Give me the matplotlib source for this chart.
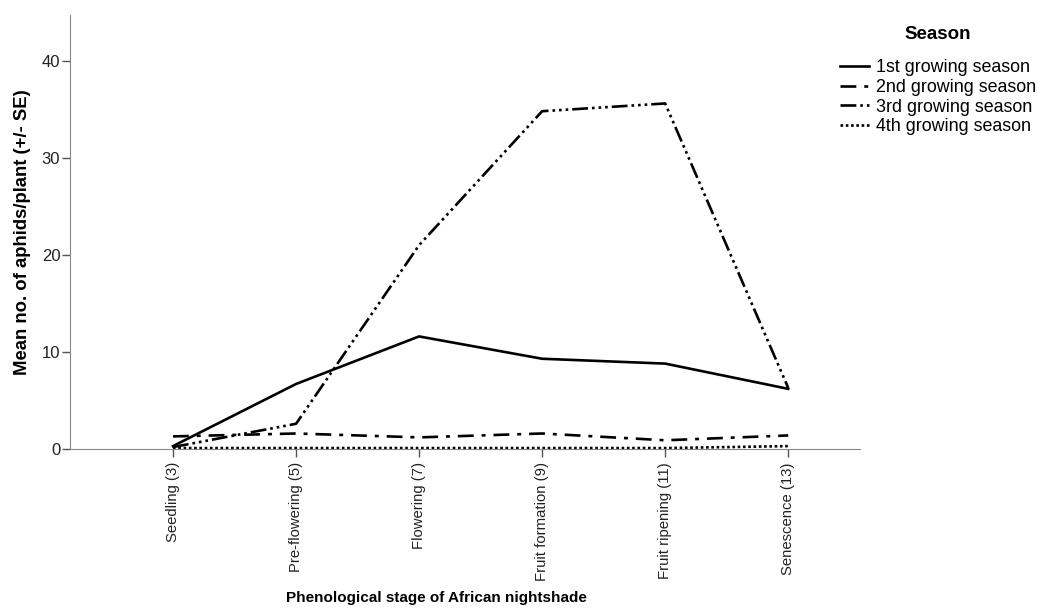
import matplotlib.pyplot as plt
from matplotlib.lines import Line2D

plt.rcParams['font.family'] = ['Liberation Sans', 'DejaVu Sans']

# Phenological stages (BBCH leaf count in brackets)
stages = ["Seedling (3)", "Pre-flowering (5)", "Flowering (7)",
          "Fruit formation (9)", "Fruit ripening (11)", "Senescence (13)"]

# Mean aphids per plant for each growing season
season1 = [0.3, 6.7, 11.6, 9.3, 8.8, 6.2]
season2 = [1.3, 1.6, 1.2, 1.6, 0.9, 1.4]
season3 = [0.2, 2.6, 21.0, 34.8, 35.6, 6.3]
season4 = [0.1, 0.1, 0.1, 0.1, 0.1, 0.3]

labels = ["1st growing season", "2nd growing season",
          "3rd growing season", "4th growing season"]
styles = ["-", (0, (6, 3, 1.5, 3)), (0, (6, 1.5, 1, 1.5, 1, 1.5, 1, 1.5)),
          (0, (1, 1))]

fig = plt.figure(figsize=(10.37, 6.12), dpi=100)
ax = fig.add_axes([0.0675, 0.2663, 0.762, 0.709])

x = list(range(len(stages)))
for ys, ls in zip([season1, season2, season3, season4], styles):
    ax.plot(x, ys, color="black", lw=1.9, linestyle=ls)

ax.set_xlim(-0.837, 5.585)
ax.set_ylim(0, 44.7)
ax.set_xticks(x)
ax.set_xticklabels(stages, rotation=90, fontsize=10.7, color="#222222")
ax.set_yticks([0, 10, 20, 30, 40])
ax.tick_params(axis="y", labelsize=12, colors="#555555", labelcolor="#222222",
               length=6, width=1, pad=1)
ax.tick_params(axis="x", colors="#555555", labelcolor="#222222",
               length=6, width=1)
for side in ["top", "right"]:
    ax.spines[side].set_visible(False)
for side in ["left", "bottom"]:
    ax.spines[side].set_color("#888888")

ax.set_ylabel("Mean no. of aphids/plant (+/- SE)", fontsize=13.3,
              fontweight="bold", labelpad=8)
fig.text(0.421, 0.012, "Phenological stage of African nightshade",
         fontsize=11, fontweight="bold", ha="center", va="bottom")

# legend title drawn separately so it sits well above the entries
fig.text(0.904, 0.943, "Season", fontsize=13.5, fontweight="bold",
         ha="center", va="center")
handles = [Line2D([], [], color="black", lw=1.9, linestyle=ls) for ls in styles]
leg = fig.legend(handles, labels, loc="upper left",
                 bbox_to_anchor=(0.810, 0.903), frameon=False, fontsize=12.9,
                 handlelength=1.6, handletextpad=0.4, labelspacing=0.15,
                 borderaxespad=0, borderpad=0)

fig.savefig("out.png", dpi=100)
